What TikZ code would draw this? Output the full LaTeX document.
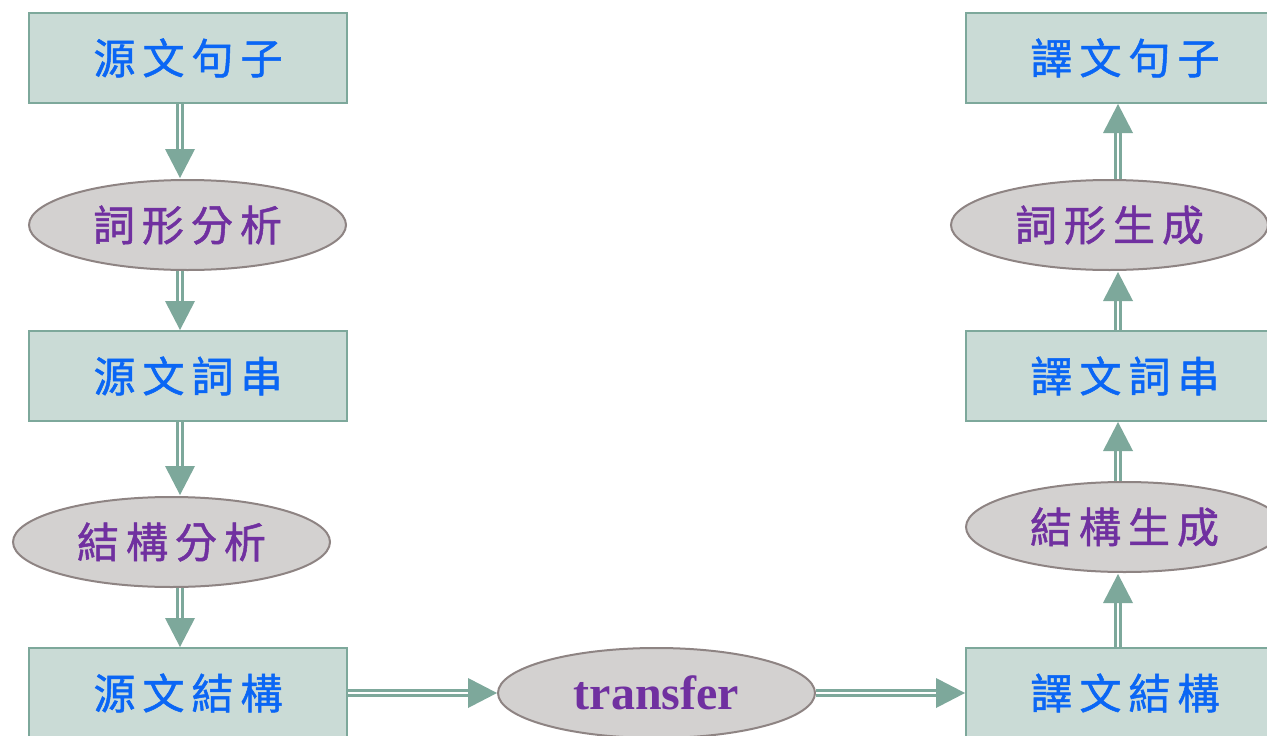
\documentclass[tikz,border=0pt]{standalone}
\usepackage{fontspec}
\setmainfont{Liberation Serif}
\newfontfamily\cjk[FakeBold=1.2]{Noto Sans CJK TC}
\usetikzlibrary{shapes.geometric,calc}

\definecolor{boxfill}{HTML}{CADBD6}
\definecolor{boxline}{HTML}{7DA89B}
\definecolor{ovalfill}{HTML}{D3D1D0}
\definecolor{ovalline}{HTML}{8E8483}
\definecolor{flowcol}{HTML}{7DA89B}
\definecolor{srcblue}{HTML}{0A66F5}
\definecolor{procpurple}{HTML}{7030A0}

% four characters with extra tracking
\newcommand\spaced[4]{#1\kern7pt#2\kern7pt#3\kern7pt#4}

% double-lined connector with a solid triangular head at the second point
\newcommand\darrow[2]{%
  \coordinate (hb) at ($(#2)!29pt!(#1)$);
  \coordinate (hs) at ($(#2)!27pt!(#1)$);
  \draw[dshaft] (#1) -- (hs);
  \fill[flowcol] (#2) -- ($(hb)!15pt!90:(#2)$) -- ($(hb)!15pt!-90:(#2)$) -- cycle;}

\tikzset{
  stagebox/.style={draw=boxline, line width=2pt, fill=boxfill,
    minimum width=318pt, minimum height=90pt, inner sep=0pt,
    font=\cjk\fontsize{42}{48}\selectfont, text=srcblue},
  procoval/.style={ellipse, draw=ovalline, line width=2pt, fill=ovalfill,
    minimum width=317pt, minimum height=90pt, inner sep=0pt,
    font=\cjk\fontsize{42}{48}\selectfont, text=procpurple},
  dshaft/.style={draw=flowcol, line width=3pt, double=white, double distance=2.5pt}
}

\newcommand\boxtext[1]{\raisebox{-3pt}{#1}}

\begin{document}
\begin{tikzpicture}[x=1pt, y=-1pt]
  \clip (0,0) rectangle (1267,736);
  \fill[white] (0,0) rectangle (1267,736);

  % analysis column
  \node[stagebox] (s1) at (188,58)  {\boxtext{\spaced{源}{文}{句}{子}}};
  \node[procoval] (p1) at (187.5,225) {\spaced{詞}{形}{分}{析}};
  \node[stagebox] (s2) at (188,376) {\boxtext{\spaced{源}{文}{詞}{串}}};
  \node[procoval] (p2) at (171.5,542) {\spaced{結}{構}{分}{析}};
  \node[stagebox] (s3) at (188,693) {\boxtext{\spaced{源}{文}{結}{構}}};

  % transfer step
  \node[procoval, font=\bfseries\fontsize{48}{54}\selectfont] (tr) at (656.5,693) {transfer};

  % generation column
  \node[stagebox] (t3) at (1125,693) {\boxtext{\spaced{譯}{文}{結}{構}}};
  \node[procoval] (g2) at (1124.5,527) {\spaced{結}{構}{生}{成}};
  \node[stagebox] (t2) at (1125,376) {\boxtext{\spaced{譯}{文}{詞}{串}}};
  \node[procoval] (g1) at (1109.5,225) {\spaced{詞}{形}{生}{成}};
  \node[stagebox] (t1) at (1125,58)  {\boxtext{\spaced{譯}{文}{句}{子}}};

  \coordinate (lx) at (180,0);
  \coordinate (rx) at (1118,0);

  % downward flow on the left
  \darrow{s1.south -| lx}{$(p1.north -| lx)+(0,-1)$}
  \darrow{p1.south -| lx}{s2.north -| lx}
  \darrow{s2.south -| lx}{$(p2.north -| lx)+(0,-1)$}
  \darrow{p2.south -| lx}{s3.north -| lx}

  % across the bottom
  \darrow{s3.east}{tr.west}
  \darrow{tr.east}{t3.west}

  % upward flow on the right
  \darrow{t3.north -| rx}{$(g2.south -| rx)+(0,1)$}
  \darrow{g2.north -| rx}{t2.south -| rx}
  \darrow{t2.north -| rx}{$(g1.south -| rx)+(0,1)$}
  \darrow{g1.north -| rx}{t1.south -| rx}
\end{tikzpicture}
\end{document}
